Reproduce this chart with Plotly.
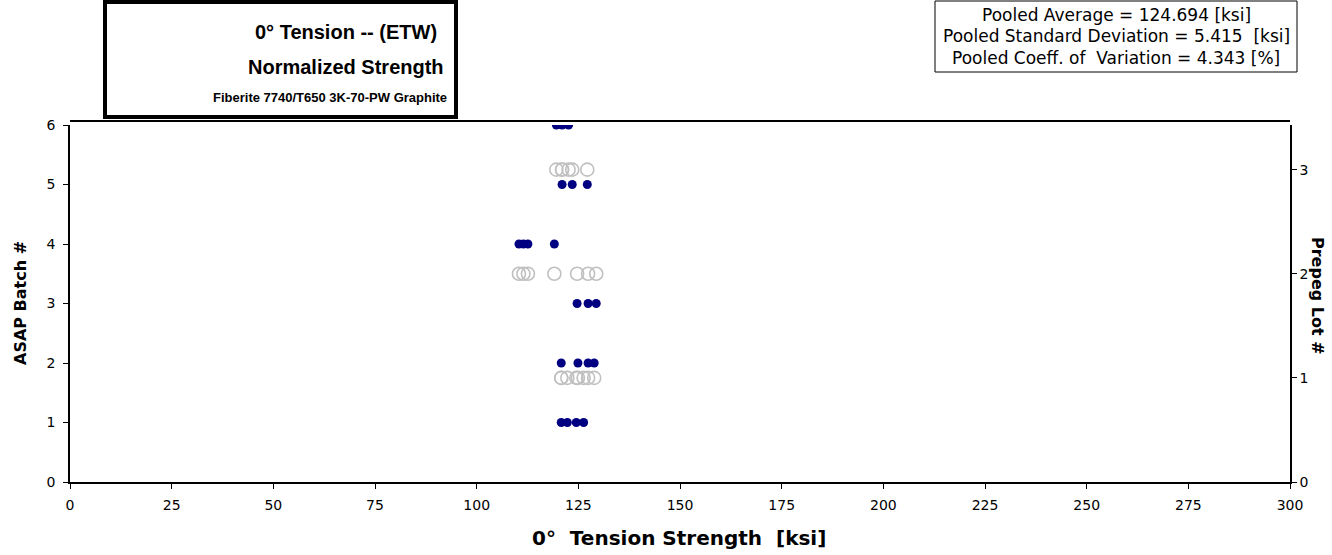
import plotly.graph_objects as go

# 0° tension strength (ksi) for each ASAP batch
batch1 = [120.8, 122.3, 124.5, 126.3]
batch2 = [120.8, 124.9, 127.4, 128.9]
batch3 = [124.7, 127.4, 129.4]
batch4 = [110.4, 111.5, 112.6, 119.1]
batch5 = [121.0, 123.5, 127.2]
batch6 = [119.6, 121.0, 122.6]
batches = [batch1, batch2, batch3, batch4, batch5, batch6]
batch_numbers = [1, 2, 3, 4, 5, 6]

# prepreg lots: each lot combines two batches
lot_numbers = [1, 2, 3]
lot_members = [(batch1, batch2), (batch3, batch4), (batch5, batch6)]

x_ticks = [0, 25, 50, 75, 100, 125, 150, 175, 200, 225, 250, 275, 300]
batch_ticks = [0, 1, 2, 3, 4, 5, 6]
lot_ticks = [0, 1, 2, 3]

stats_lines = [
    "Pooled Average = 124.694 [ksi]",
    "Pooled Standard Deviation = 5.415  [ksi]",
    "Pooled Coeff. of  Variation = 4.343 [%]",
]

W, H = 1332, 555
PL, PR, PT, PB = 70, 1290, 125, 482
FONT = "DejaVu Sans, Arial, sans-serif"
TITLE_FONT = "Liberation Sans, Arial, sans-serif"


def px(x):
    return (x - PL) / (PR - PL)


def py(y):
    return (PB - y) / (PB - PT)


fig = go.Figure()

# lot points (open grey circles) on the secondary axis
lot_x, lot_y = [], []
for n, members in zip(lot_numbers, lot_members):
    vals = [v for b in members for v in b]
    lot_x += vals
    lot_y += [n] * len(vals)
fig.add_trace(go.Scatter(
    x=lot_x, y=lot_y, yaxis="y2", mode="markers",
    marker=dict(symbol="circle-open", size=13, color="#c0c0c0",
                line=dict(width=1.6, color="#c0c0c0")),
    showlegend=False, hoverinfo="x+y"))

# batch points (solid navy dots)
bx, by = [], []
for n, vals in zip(batch_numbers, batches):
    bx += vals
    by += [n] * len(vals)
fig.add_trace(go.Scatter(
    x=bx, y=by, mode="markers",
    marker=dict(symbol="circle", size=9, color="#000080"),
    showlegend=False, hoverinfo="x+y"))

axis_font = dict(family=FONT, size=14, color="black")

fig.update_layout(
    width=W, height=H,
    margin=dict(l=PL, r=W - PR, t=PT, b=H - PB),
    paper_bgcolor="white", plot_bgcolor="white",
    font=dict(family=FONT, color="black"),
    xaxis=dict(range=[0, 300], tickvals=x_ticks, showgrid=False, zeroline=False,
               showline=True, linecolor="black", linewidth=1.5,
               ticks="outside", ticklen=5, tickcolor="black",
               ticklabelstandoff=4, tickfont=axis_font),
    yaxis=dict(range=[0, 6], tickvals=batch_ticks, showgrid=False, zeroline=False,
               showline=True, linecolor="black", linewidth=1.5,
               ticks="outside", ticklen=5, tickcolor="black",
               ticklabelstandoff=5, tickfont=axis_font),
    yaxis2=dict(range=[0, 6 / 1.75], tickvals=lot_ticks, overlaying="y", side="right",
                showgrid=False, zeroline=False, showline=True, linecolor="black",
                linewidth=1.5, ticks="outside", ticklen=5, tickcolor="black",
                tickfont=axis_font),
)

shapes = [
    # top border of plot area
    dict(type="line", xref="paper", yref="paper", x0=0, x1=1, y0=py(121), y1=py(121),
         line=dict(color="black", width=2)),
    # title frame
    dict(type="rect", xref="paper", yref="paper", x0=px(105), x1=px(456),
         y0=py(117), y1=py(2), line=dict(color="black", width=4),
         fillcolor="white", layer="above"),
    # statistics frame
    dict(type="rect", xref="paper", yref="paper", x0=px(935), x1=px(1297),
         y0=py(72), y1=py(1), line=dict(color="black", width=1),
         fillcolor="white", layer="above"),
]

annotations = [
    dict(text="<b>0° Tension -- (ETW)</b>", x=px(346), y=py(32), size=20, family=TITLE_FONT),
    dict(text="<b>Normalized Strength</b>", x=px(346), y=py(67), size=20, family=TITLE_FONT),
    dict(text="<b>Fiberite 7740/T650 3K-70-PW Graphite</b>", x=px(330), y=py(97),
         size=13, family=TITLE_FONT),
    dict(text=stats_lines[0], x=px(1116), y=py(15), size=17),
    dict(text=stats_lines[1], x=px(1116), y=py(36), size=17),
    dict(text=stats_lines[2], x=px(1116), y=py(58), size=17),
    dict(text="<b>0°  Tension Strength  [ksi]</b>", x=px(679), y=py(538), size=20),
    dict(text="<b>ASAP Batch #</b>", x=px(20), y=py(303), size=16, angle=-90),
    dict(text="<b>Prepeg Lot #</b>", x=px(1318), y=py(296), size=16, angle=90),
]

fig.update_layout(
    shapes=shapes,
    annotations=[dict(text=a["text"], x=a["x"], y=a["y"], xref="paper", yref="paper",
                      showarrow=False, xanchor="center", yanchor="middle",
                      textangle=a.get("angle", 0),
                      font=dict(family=a.get("family", FONT), size=a["size"],
                                color="black"))
                 for a in annotations],
)

fig.write_html("out.html")
